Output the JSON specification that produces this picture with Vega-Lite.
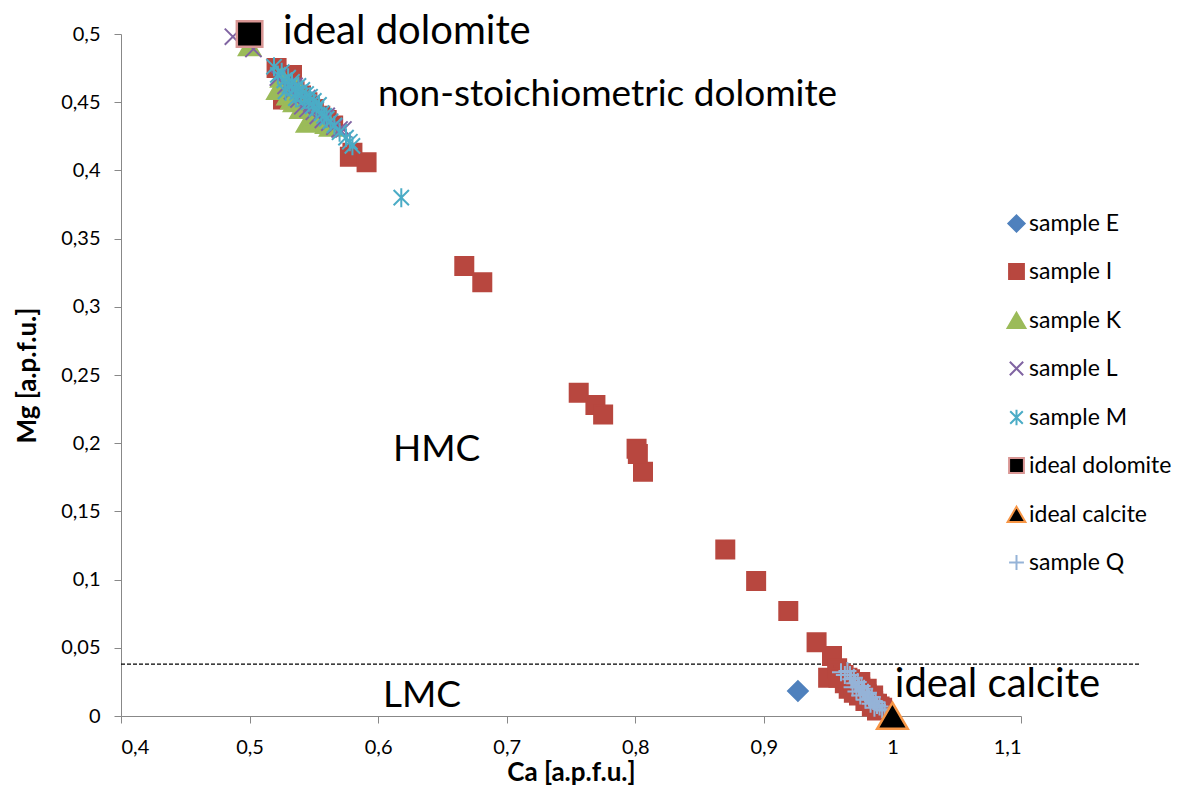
{
  "$schema": "https://vega.github.io/schema/vega-lite/v6.json",
  "width": 900,
  "height": 682,
  "autosize": "none",
  "padding": {"left": 121, "top": 34, "right": 170, "bottom": 76},
  "background": "white",
  "config": {
    "view": {"stroke": null},
    "font": "Lato",
    "axis": {
      "grid": false,
      "domainColor": "#888888",
      "tickColor": "#888888",
      "tickSize": 7,
      "labelFontSize": 20,
      "labelColor": "#000000",
      "labelFont": "Lato",
      "titleFont": "Lato",
      "titleFontSize": 26,
      "titleFontWeight": "bold",
      "titleColor": "#000000"
    },
    "legend": {
      "labelFontSize": 23, "labelFont": "Lato", "labelColor": "#000000",
      "symbolSize": 220, "symbolStrokeWidth": 2, "rowPadding": 24, "labelOffset": 1, "padding": 0
    }
  },
  "datasets": {
    "pts": [
      {"series": "sample E", "Ca": 0.9265, "Mg": 0.0183},
      {"series": "sample I", "Ca": 0.521, "Mg": 0.475},
      {"series": "sample I", "Ca": 0.528, "Mg": 0.47},
      {"series": "sample I", "Ca": 0.533, "Mg": 0.47},
      {"series": "sample I", "Ca": 0.526, "Mg": 0.452},
      {"series": "sample I", "Ca": 0.53, "Mg": 0.465},
      {"series": "sample I", "Ca": 0.535, "Mg": 0.458},
      {"series": "sample I", "Ca": 0.54, "Mg": 0.455},
      {"series": "sample I", "Ca": 0.545, "Mg": 0.45},
      {"series": "sample I", "Ca": 0.55, "Mg": 0.445},
      {"series": "sample I", "Ca": 0.555, "Mg": 0.44},
      {"series": "sample I", "Ca": 0.56, "Mg": 0.437},
      {"series": "sample I", "Ca": 0.565, "Mg": 0.433},
      {"series": "sample I", "Ca": 0.578, "Mg": 0.41},
      {"series": "sample I", "Ca": 0.58, "Mg": 0.413},
      {"series": "sample I", "Ca": 0.591, "Mg": 0.406},
      {"series": "sample I", "Ca": 0.667, "Mg": 0.33},
      {"series": "sample I", "Ca": 0.681, "Mg": 0.318},
      {"series": "sample I", "Ca": 0.756, "Mg": 0.237},
      {"series": "sample I", "Ca": 0.769, "Mg": 0.228},
      {"series": "sample I", "Ca": 0.775, "Mg": 0.221},
      {"series": "sample I", "Ca": 0.801, "Mg": 0.196},
      {"series": "sample I", "Ca": 0.802, "Mg": 0.192},
      {"series": "sample I", "Ca": 0.806, "Mg": 0.179},
      {"series": "sample I", "Ca": 0.87, "Mg": 0.122},
      {"series": "sample I", "Ca": 0.894, "Mg": 0.099},
      {"series": "sample I", "Ca": 0.919, "Mg": 0.077},
      {"series": "sample I", "Ca": 0.941, "Mg": 0.054},
      {"series": "sample I", "Ca": 0.953, "Mg": 0.044},
      {"series": "sample I", "Ca": 0.95, "Mg": 0.028},
      {"series": "sample I", "Ca": 0.957, "Mg": 0.035},
      {"series": "sample I", "Ca": 0.96, "Mg": 0.031},
      {"series": "sample I", "Ca": 0.962, "Mg": 0.03},
      {"series": "sample I", "Ca": 0.965, "Mg": 0.028},
      {"series": "sample I", "Ca": 0.967, "Mg": 0.027},
      {"series": "sample I", "Ca": 0.968, "Mg": 0.024},
      {"series": "sample I", "Ca": 0.97, "Mg": 0.025},
      {"series": "sample I", "Ca": 0.972, "Mg": 0.022},
      {"series": "sample I", "Ca": 0.973, "Mg": 0.02},
      {"series": "sample I", "Ca": 0.975, "Mg": 0.021},
      {"series": "sample I", "Ca": 0.976, "Mg": 0.018},
      {"series": "sample I", "Ca": 0.978, "Mg": 0.017},
      {"series": "sample I", "Ca": 0.98, "Mg": 0.016},
      {"series": "sample I", "Ca": 0.981, "Mg": 0.013},
      {"series": "sample I", "Ca": 0.983, "Mg": 0.013},
      {"series": "sample I", "Ca": 0.985, "Mg": 0.011},
      {"series": "sample I", "Ca": 0.986, "Mg": 0.009},
      {"series": "sample I", "Ca": 0.988, "Mg": 0.009},
      {"series": "sample I", "Ca": 0.99, "Mg": 0.007},
      {"series": "sample I", "Ca": 0.992, "Mg": 0.006},
      {"series": "sample I", "Ca": 0.963, "Mg": 0.024},
      {"series": "sample I", "Ca": 0.966, "Mg": 0.02},
      {"series": "sample I", "Ca": 0.97, "Mg": 0.017},
      {"series": "sample I", "Ca": 0.974, "Mg": 0.015},
      {"series": "sample I", "Ca": 0.979, "Mg": 0.011},
      {"series": "sample I", "Ca": 0.984, "Mg": 0.007},
      {"series": "sample I", "Ca": 0.988, "Mg": 0.004},
      {"series": "sample I", "Ca": 0.958, "Mg": 0.028},
      {"series": "sample I", "Ca": 0.975, "Mg": 0.025},
      {"series": "sample I", "Ca": 0.98, "Mg": 0.02},
      {"series": "sample I", "Ca": 0.985, "Mg": 0.015},
      {"series": "sample K", "Ca": 0.5, "Mg": 0.491},
      {"series": "sample K", "Ca": 0.522, "Mg": 0.459},
      {"series": "sample K", "Ca": 0.525, "Mg": 0.468},
      {"series": "sample K", "Ca": 0.53, "Mg": 0.455},
      {"series": "sample K", "Ca": 0.533, "Mg": 0.452},
      {"series": "sample K", "Ca": 0.537, "Mg": 0.46},
      {"series": "sample K", "Ca": 0.54, "Mg": 0.445},
      {"series": "sample K", "Ca": 0.545, "Mg": 0.435},
      {"series": "sample K", "Ca": 0.548, "Mg": 0.437},
      {"series": "sample K", "Ca": 0.552, "Mg": 0.44},
      {"series": "sample K", "Ca": 0.556, "Mg": 0.436},
      {"series": "sample K", "Ca": 0.56, "Mg": 0.434},
      {"series": "sample K", "Ca": 0.563, "Mg": 0.432},
      {"series": "sample K", "Ca": 0.535, "Mg": 0.45},
      {"series": "sample L", "Ca": 0.487, "Mg": 0.498},
      {"series": "sample L", "Ca": 0.503, "Mg": 0.489},
      {"series": "sample L", "Ca": 0.522, "Mg": 0.468},
      {"series": "sample L", "Ca": 0.528, "Mg": 0.462},
      {"series": "sample L", "Ca": 0.533, "Mg": 0.458},
      {"series": "sample L", "Ca": 0.538, "Mg": 0.452},
      {"series": "sample L", "Ca": 0.541, "Mg": 0.447},
      {"series": "sample L", "Ca": 0.545, "Mg": 0.445},
      {"series": "sample L", "Ca": 0.55, "Mg": 0.443},
      {"series": "sample L", "Ca": 0.553, "Mg": 0.44},
      {"series": "sample L", "Ca": 0.557, "Mg": 0.437},
      {"series": "sample L", "Ca": 0.56, "Mg": 0.44},
      {"series": "sample L", "Ca": 0.562, "Mg": 0.435},
      {"series": "sample L", "Ca": 0.566, "Mg": 0.432},
      {"series": "sample L", "Ca": 0.57, "Mg": 0.43},
      {"series": "sample L", "Ca": 0.545, "Mg": 0.453},
      {"series": "sample L", "Ca": 0.535, "Mg": 0.462},
      {"series": "sample L", "Ca": 0.548, "Mg": 0.449},
      {"series": "sample L", "Ca": 0.573, "Mg": 0.43},
      {"series": "sample M", "Ca": 0.519, "Mg": 0.476},
      {"series": "sample M", "Ca": 0.522, "Mg": 0.47},
      {"series": "sample M", "Ca": 0.525, "Mg": 0.472},
      {"series": "sample M", "Ca": 0.527, "Mg": 0.466},
      {"series": "sample M", "Ca": 0.53, "Mg": 0.468},
      {"series": "sample M", "Ca": 0.531, "Mg": 0.462},
      {"series": "sample M", "Ca": 0.533, "Mg": 0.465},
      {"series": "sample M", "Ca": 0.535, "Mg": 0.46},
      {"series": "sample M", "Ca": 0.537, "Mg": 0.457},
      {"series": "sample M", "Ca": 0.538, "Mg": 0.462},
      {"series": "sample M", "Ca": 0.54, "Mg": 0.455},
      {"series": "sample M", "Ca": 0.541, "Mg": 0.459},
      {"series": "sample M", "Ca": 0.543, "Mg": 0.452},
      {"series": "sample M", "Ca": 0.544, "Mg": 0.456},
      {"series": "sample M", "Ca": 0.546, "Mg": 0.45},
      {"series": "sample M", "Ca": 0.547, "Mg": 0.454},
      {"series": "sample M", "Ca": 0.549, "Mg": 0.447},
      {"series": "sample M", "Ca": 0.55, "Mg": 0.451},
      {"series": "sample M", "Ca": 0.552, "Mg": 0.445},
      {"series": "sample M", "Ca": 0.554, "Mg": 0.448},
      {"series": "sample M", "Ca": 0.556, "Mg": 0.442},
      {"series": "sample M", "Ca": 0.558, "Mg": 0.44},
      {"series": "sample M", "Ca": 0.56, "Mg": 0.438},
      {"series": "sample M", "Ca": 0.563, "Mg": 0.436},
      {"series": "sample M", "Ca": 0.566, "Mg": 0.433},
      {"series": "sample M", "Ca": 0.57, "Mg": 0.428},
      {"series": "sample M", "Ca": 0.575, "Mg": 0.424},
      {"series": "sample M", "Ca": 0.578, "Mg": 0.421},
      {"series": "sample M", "Ca": 0.58, "Mg": 0.418},
      {"series": "sample M", "Ca": 0.618, "Mg": 0.38},
      {"series": "sample M", "Ca": 0.528, "Mg": 0.458},
      {"series": "sample M", "Ca": 0.536, "Mg": 0.453},
      {"series": "ideal dolomite", "Ca": 0.5, "Mg": 0.5},
      {"series": "ideal calcite", "Ca": 1.0, "Mg": 0.0},
      {"series": "sample Q", "Ca": 0.965, "Mg": 0.033},
      {"series": "sample Q", "Ca": 0.967, "Mg": 0.03},
      {"series": "sample Q", "Ca": 0.968, "Mg": 0.027},
      {"series": "sample Q", "Ca": 0.97, "Mg": 0.028},
      {"series": "sample Q", "Ca": 0.971, "Mg": 0.024},
      {"series": "sample Q", "Ca": 0.973, "Mg": 0.025},
      {"series": "sample Q", "Ca": 0.974, "Mg": 0.021},
      {"series": "sample Q", "Ca": 0.976, "Mg": 0.022},
      {"series": "sample Q", "Ca": 0.977, "Mg": 0.018},
      {"series": "sample Q", "Ca": 0.978, "Mg": 0.02},
      {"series": "sample Q", "Ca": 0.98, "Mg": 0.016},
      {"series": "sample Q", "Ca": 0.981, "Mg": 0.017},
      {"series": "sample Q", "Ca": 0.982, "Mg": 0.013},
      {"series": "sample Q", "Ca": 0.984, "Mg": 0.014},
      {"series": "sample Q", "Ca": 0.985, "Mg": 0.011},
      {"series": "sample Q", "Ca": 0.987, "Mg": 0.01},
      {"series": "sample Q", "Ca": 0.988, "Mg": 0.008},
      {"series": "sample Q", "Ca": 0.99, "Mg": 0.007},
      {"series": "sample Q", "Ca": 0.992, "Mg": 0.005},
      {"series": "sample Q", "Ca": 0.994, "Mg": 0.004},
      {"series": "sample Q", "Ca": 0.972, "Mg": 0.018},
      {"series": "sample Q", "Ca": 0.975, "Mg": 0.015},
      {"series": "sample Q", "Ca": 0.979, "Mg": 0.012},
      {"series": "sample Q", "Ca": 0.983, "Mg": 0.009},
      {"series": "sample Q", "Ca": 0.986, "Mg": 0.006},
      {"series": "sample Q", "Ca": 0.969, "Mg": 0.021},
      {"series": "sample Q", "Ca": 0.96, "Mg": 0.032},
      {"series": "sample Q", "Ca": 0.963, "Mg": 0.03}
    ]
  },
  "layer": [
    {
      "data": {"values": [{}]},
      "mark": {"type": "rule", "color": "#000000", "strokeWidth": 1.3, "strokeDash": [4, 2]},
      "encoding": {
        "x": {"datum": 0.4, "type": "quantitative"},
        "x2": {"datum": 1.1925},
        "y": {"datum": 0.038, "type": "quantitative"}
      }
    },
    {
      "data": {"name": "pts"},
      "transform": [{"filter": "datum.series !== 'ideal dolomite' && datum.series !== 'ideal calcite'"}],
      "mark": {"type": "point", "strokeWidth": 2, "opacity": 1, "size": 324},
      "encoding": {
        "x": {
          "field": "Ca", "type": "quantitative",
          "scale": {"domain": [0.4, 1.1], "nice": false, "zero": false},
          "axis": {
            "title": "Ca [a.p.f.u.]",
            "values": [0.4, 0.5, 0.6, 0.7, 0.8, 0.9, 1.0, 1.1],
            "labelExpr": "replace(format(datum.value, '~g'), '.', ',')",
            "labelPadding": 14,
            "titlePadding": 2
          }
        },
        "y": {
          "field": "Mg", "type": "quantitative",
          "scale": {"domain": [0, 0.5], "nice": false, "zero": true},
          "axis": {
            "title": "Mg  [a.p.f.u.]",
            "values": [0, 0.05, 0.1, 0.15, 0.2, 0.25, 0.3, 0.35, 0.4, 0.45, 0.5],
            "labelExpr": "replace(format(datum.value, '~g'), '.', ',')",
            "labelPadding": 14,
            "titlePadding": 20
          }
        },
        "shape": {
          "field": "series", "type": "nominal",
          "scale": {
            "domain": ["sample E", "sample I", "sample K", "sample L", "sample M", "ideal dolomite", "ideal calcite", "sample Q"],
            "range": ["M0,-1.1L1.1,0L0,1.1L-1.1,0Z", "square", "M0,-1.05L1.2,1L-1.2,1Z", "M-0.9,-0.9L0.9,0.9M-0.9,0.9L0.9,-0.9", "M-0.85,-0.85L0.85,0.85M-0.85,0.85L0.85,-0.85M0,-1.05L0,1.05", "square", "M0,-1.05L1.2,1L-1.2,1Z", "M-1,0L1,0M0,-1L0,1"]
          },
          "legend": {"title": null, "orient": "none", "legendX": 884, "legendY": 178}
        },
        "fill": {
          "field": "series", "type": "nominal",
          "scale": {
            "domain": ["sample E", "sample I", "sample K", "sample L", "sample M", "ideal dolomite", "ideal calcite", "sample Q"],
            "range": ["#4F81BD", "#B8473F", "#9BBB59", "transparent", "transparent", "#000000", "#000000", "transparent"]
          },
          "legend": {"title": null, "orient": "none", "legendX": 884, "legendY": 178}
        },
        "stroke": {
          "field": "series", "type": "nominal",
          "scale": {
            "domain": ["sample E", "sample I", "sample K", "sample L", "sample M", "ideal dolomite", "ideal calcite", "sample Q"],
            "range": ["#4F81BD", "#B8473F", "#9BBB59", "#8064A2", "#4BACC6", "#D99694", "#F79646", "#95B3D7"]
          },
          "legend": {"title": null, "orient": "none", "legendX": 884, "legendY": 178}
        }
      }
    },
    {
      "data": {"name": "pts"},
      "transform": [{"filter": "datum.series === 'ideal dolomite' || datum.series === 'ideal calcite'"}],
      "mark": {"type": "point", "strokeWidth": 2.5, "opacity": 1, "size": 650},
      "encoding": {
        "x": {"field": "Ca", "type": "quantitative"},
        "y": {"field": "Mg", "type": "quantitative"},
        "shape": {"field": "series", "type": "nominal", "legend": {"title": null, "orient": "none", "legendX": 884, "legendY": 178}},
        "fill": {"field": "series", "type": "nominal", "legend": {"title": null, "orient": "none", "legendX": 884, "legendY": 178}},
        "stroke": {"field": "series", "type": "nominal", "legend": {"title": null, "orient": "none", "legendX": 884, "legendY": 178}}
      }
    },
    {
      "data": {"values": [{}]},
      "mark": {"type": "text", "text": "ideal dolomite", "align": "left", "baseline": "middle", "fontSize": 40, "font": "Lato", "color": "#000000"},
      "encoding": {"x": {"datum": 0.526, "type": "quantitative"}, "y": {"datum": 0.5015, "type": "quantitative"}}
    },
    {
      "data": {"values": [{}]},
      "mark": {"type": "text", "text": "non-stoichiometric dolomite", "align": "left", "baseline": "middle", "fontSize": 37, "font": "Lato", "color": "#000000"},
      "encoding": {"x": {"datum": 0.5998, "type": "quantitative"}, "y": {"datum": 0.4553, "type": "quantitative"}}
    },
    {
      "data": {"values": [{}]},
      "mark": {"type": "text", "text": "HMC", "align": "left", "baseline": "middle", "fontSize": 37, "font": "Lato", "color": "#000000"},
      "encoding": {"x": {"datum": 0.6115, "type": "quantitative"}, "y": {"datum": 0.195, "type": "quantitative"}}
    },
    {
      "data": {"values": [{}]},
      "mark": {"type": "text", "text": "LMC", "align": "left", "baseline": "middle", "fontSize": 37, "font": "Lato", "color": "#000000"},
      "encoding": {"x": {"datum": 0.6037, "type": "quantitative"}, "y": {"datum": 0.0147, "type": "quantitative"}}
    },
    {
      "data": {"values": [{}]},
      "mark": {"type": "text", "text": "ideal calcite", "align": "left", "baseline": "middle", "fontSize": 40, "font": "Lato", "color": "#000000"},
      "encoding": {"x": {"datum": 1.0019, "type": "quantitative"}, "y": {"datum": 0.0227, "type": "quantitative"}}
    }
  ]
}
